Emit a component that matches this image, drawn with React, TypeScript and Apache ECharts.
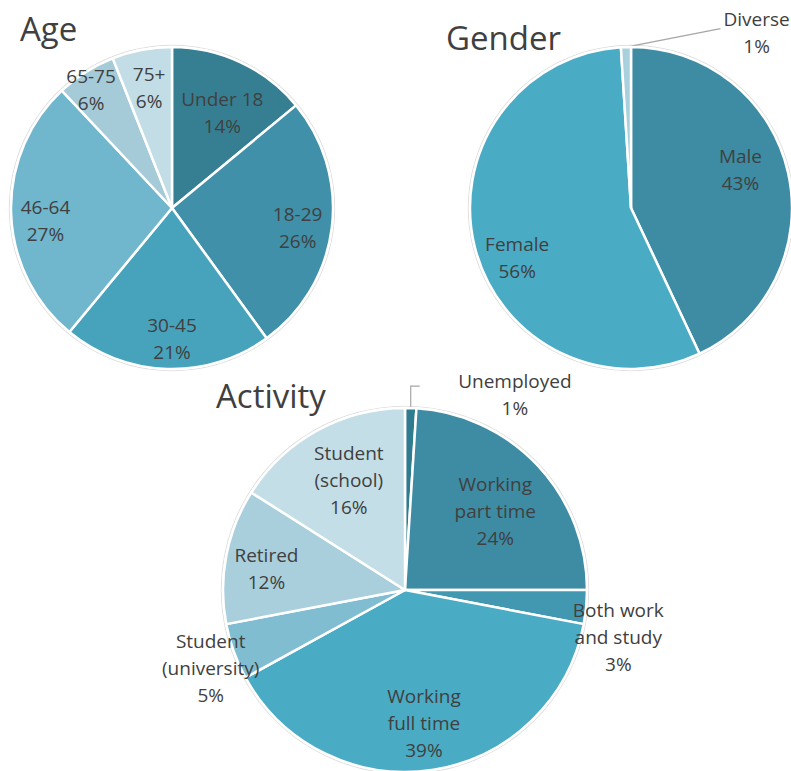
import React, { useEffect, useRef } from "react";
import * as echarts from "echarts";

// ---- data ----
const AGE_NAMES = ["Under 18", "18-29", "30-45", "46-64", "65-75", "75+"];
const AGE_VALUES = [14, 26, 21, 27, 6, 6];

const GENDER_NAMES = ["Male", "Female", "Diverse"];
const GENDER_VALUES = [43, 56, 1];

const ACTIVITY_NAMES = [
  "Unemployed",
  "Working part time",
  "Both work and study",
  "Working full time",
  "Student (university)",
  "Retired",
  "Student (school)",
];
const ACTIVITY_VALUES = [1, 24, 3, 39, 5, 12, 16];

const TITLES = ["Age", "Gender", "Activity"];

// ---- styles ----
const AGE_COLORS = ["#367f93", "#3f90a8", "#47a3bc", "#70b6cc", "#a5cbd9", "#c2dde6"];
const GENDER_COLORS = ["#3d8ca3", "#4aabc5", "#a9d0dd"];
const ACTIVITY_COLORS = ["#2f7b8f", "#3d8ca3", "#4398b1", "#4aabc5", "#80bdd0", "#a9cfdc", "#c3dee6"];

const LABEL_WRAP: Record<string, string> = {
  "Working part time": "Working\npart time",
  "Both work and study": "Both work\nand study",
  "Working full time": "Working\nfull time",
  "Student (university)": "Student\n(university)",
  "Student (school)": "Student\n(school)",
};

// label placement: radius fraction + angle offset from slice mid-angle (deg)
const AGE_LABEL_R = [0.67, 0.79, 0.81, 0.79, 0.89, 0.76];
const AGE_LABEL_DA = [2.6, 1.8, -1.8, -4, -2, 0];
const GENDER_LABEL_R = [0.72, 0.77, 1.34];
const GENDER_LABEL_DA = [-6.6, -8.9, 37.4];
const ACTIVITY_LABEL_R = [1.23, 0.66, 1.2, 0.74, 1.15, 0.77, 0.68];
const ACTIVITY_LABEL_DA = [27.6, 1.9, 7, 0.9, -2, -2.1, 1.8];

const FONT = "'Open Sans', sans-serif";
const TEXT_COLOR = "#404040";

type LineCfg = { index: number; kind: "straight" | "elbow" };

function makeLayout(
  values: number[],
  cx: number,
  cy: number,
  r: number,
  radFrac: number[],
  angOff: number[],
  line?: LineCfg
) {
  const total = values.reduce((a, b) => a + b, 0);
  const mids: number[] = [];
  let acc = 0;
  values.forEach((v) => {
    mids.push(((acc + v / 2) / total) * 360);
    acc += v;
  });
  return (params: any) => {
    const i = params.dataIndex;
    const ang = ((mids[i] + angOff[i]) * Math.PI) / 180;
    const rr = radFrac[i] * r;
    const x = cx + rr * Math.sin(ang);
    const y = cy - rr * Math.cos(ang);
    const out: any = { x, y, align: "center", verticalAlign: "middle" };
    if (line && line.index === i) {
      const m = (mids[i] * Math.PI) / 180;
      const ex = cx + r * Math.sin(m);
      const ey = cy - r * Math.cos(m);
      const w = params.labelRect ? params.labelRect.width : 60;
      if (line.kind === "straight") {
        out.labelLinePoints = [
          [ex, ey],
          [x - w / 2 - 3, y - 4],
        ];
      } else {
        out.labelLinePoints = [
          [ex, ey],
          [ex, ey - 22],
          [ex + 9, ey - 22],
        ];
      }
    }
    return out;
  };
}

function buildData(names: string[], values: number[], colors: string[], outsideIdx?: number) {
  return names.map((n, i) => {
    const item: any = { name: n, value: values[i], itemStyle: { color: colors[i] } };
    if (outsideIdx === i) {
      item.label = { position: "outside" };
      item.labelLine = { show: true, lineStyle: { color: "#a6a6a6", width: 1.2 } };
    }
    return item;
  });
}

function outline(cx: number, cy: number, r: number) {
  return {
    type: "pie",
    center: [cx, cy],
    radius: [r + 1.2, r + 2.2],
    silent: true,
    z: 1,
    label: { show: false },
    labelLine: { show: false },
    itemStyle: { color: "#dedede" },
    emphasis: { disabled: true },
    data: [{ name: "", value: 1 }],
  };
}

function pieSeries(
  names: string[],
  values: number[],
  colors: string[],
  cx: number,
  cy: number,
  r: number,
  radFrac: number[],
  angOff: number[],
  line?: LineCfg
) {
  return {
    type: "pie",
    center: [cx, cy],
    radius: [0, r],
    startAngle: 90,
    clockwise: true,
    avoidLabelOverlap: false,
    z: 2,
    itemStyle: { borderColor: "#ffffff", borderWidth: 2.5 },
    label: {
      show: true,
      position: "inside",
      color: TEXT_COLOR,
      fontFamily: FONT,
      fontSize: 19,
      lineHeight: 27,
      formatter: (p: any) => `${LABEL_WRAP[p.name] || p.name}\n${Math.round(p.percent)}%`,
    },
    labelLine: { show: false },
    labelLayout: makeLayout(values, cx, cy, r, radFrac, angOff, line),
    emphasis: { disabled: true },
    data: buildData(names, values, colors, line ? line.index : undefined),
  };
}

export default function App() {
  const ref = useRef<HTMLDivElement>(null);
  useEffect(() => {
    if (!ref.current) return;
    const chart = echarts.init(ref.current, undefined, { renderer: "svg" });
    const titleStyle = { fill: TEXT_COLOR, fontFamily: FONT, fontSize: 33 };
    chart.setOption({
      animation: false,
      backgroundColor: "#ffffff",
      graphic: [
        { type: "text", left: 20, top: 12, style: { ...titleStyle, text: TITLES[0] } },
        { type: "text", left: 446, top: 21, style: { ...titleStyle, text: TITLES[1] } },
        { type: "text", left: 216, top: 379, style: { ...titleStyle, text: TITLES[2] } },
      ],
      series: [
        outline(172, 208, 161),
        outline(631, 208, 161),
        outline(405, 590, 182),
        pieSeries(AGE_NAMES, AGE_VALUES, AGE_COLORS, 172, 208, 161, AGE_LABEL_R, AGE_LABEL_DA),
        pieSeries(GENDER_NAMES, GENDER_VALUES, GENDER_COLORS, 631, 208, 161, GENDER_LABEL_R, GENDER_LABEL_DA, {
          index: 2,
          kind: "straight",
        }),
        pieSeries(ACTIVITY_NAMES, ACTIVITY_VALUES, ACTIVITY_COLORS, 405, 590, 182, ACTIVITY_LABEL_R, ACTIVITY_LABEL_DA, {
          index: 0,
          kind: "elbow",
        }),
      ],
    });
    return () => chart.dispose();
  }, []);
  return (
    <div
      ref={ref}
      style={{ position: "absolute", left: 0, top: 0, width: 791, height: 771 }}
    />
  );
}
